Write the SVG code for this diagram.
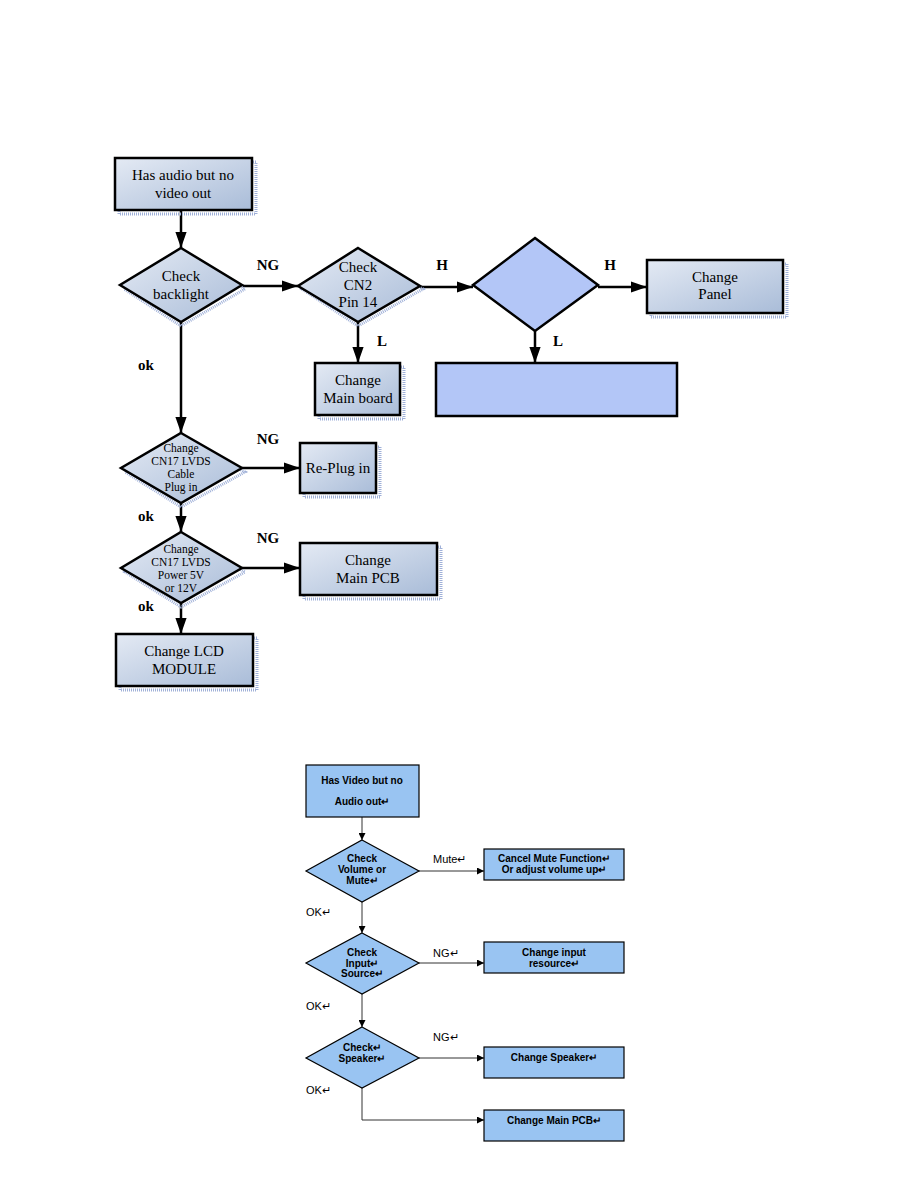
<svg xmlns="http://www.w3.org/2000/svg" width="918" height="1188" viewBox="0 0 918 1188">
<defs>
<linearGradient id="g1" x1="0" y1="0" x2="1" y2="1">
<stop offset="0" stop-color="#e4eaf4"/>
<stop offset="1" stop-color="#a9bcd8"/>
</linearGradient>
<marker id="ah" viewBox="0 0 10 10" refX="10" refY="5" markerWidth="7" markerHeight="7" markerUnits="userSpaceOnUse" orient="auto">
<path d="M0,0 L10,5 L0,10 z" fill="#000"/>
</marker>
<marker id="ab" viewBox="0 0 10 10" refX="10" refY="5" markerWidth="16" markerHeight="16" markerUnits="userSpaceOnUse" orient="auto">
<path d="M0,1.5 L10,5 L0,8.5 z" fill="#000"/>
</marker>
<style>
.n{fill:url(#g1);stroke:#000;stroke-width:2.5}
.b{fill:#b3c6f7;stroke:#000;stroke-width:2.5}
.sh{fill:none;stroke:#9fb0d8;stroke-width:3;stroke-dasharray:1 1}
.t{font-family:"Liberation Serif",serif;font-size:15px;fill:#000;text-anchor:middle}
.ts{font-family:"Liberation Serif",serif;font-size:11.5px;fill:#000;text-anchor:middle}
.l{font-family:"Liberation Serif",serif;font-size:15px;font-weight:bold;fill:#000}
.c{stroke:#000;stroke-width:2.5;fill:none;marker-end:url(#ab)}
.n2{fill:#99c4f2;stroke:#000;stroke-width:1.2}
.t2{font-family:"Liberation Sans",sans-serif;font-size:10px;font-weight:bold;fill:#000;text-anchor:middle}
.l2{font-family:"Liberation Sans",sans-serif;font-size:11px;fill:#000}
.c2{stroke:#333;stroke-width:1;fill:none;marker-end:url(#ah)}
</style>
</defs>
<rect width="918" height="1188" fill="#fff"/>

<g id="connectors">
<line class="c" x1="181" y1="210" x2="181" y2="248"/>
<line class="c" x1="242" y1="286" x2="298" y2="286"/>
<line class="c" x1="420" y1="287" x2="473" y2="287"/>
<line class="c" x1="598" y1="287" x2="647" y2="287"/>
<line class="c" x1="535" y1="331" x2="535" y2="363"/>
<line class="c" x1="358" y1="322" x2="358" y2="363"/>
<line class="c" x1="181" y1="322" x2="181" y2="433"/>
<line class="c" x1="242" y1="468" x2="300" y2="468"/>
<line class="c" x1="181" y1="503" x2="181" y2="532"/>
<line class="c" x1="242" y1="568" x2="300" y2="568"/>
<line class="c" x1="181" y1="603" x2="181" y2="634"/>
<text class="l" x="268" y="270" text-anchor="middle">NG</text>
<text class="l" x="442" y="270" text-anchor="middle">H</text>
<text class="l" x="610" y="270" text-anchor="middle">H</text>
<text class="l" x="382" y="346" text-anchor="middle">L</text>
<text class="l" x="558" y="346" text-anchor="middle">L</text>
<text class="l" x="146" y="370" text-anchor="middle">ok</text>
<text class="l" x="268" y="444" text-anchor="middle">NG</text>
<text class="l" x="146" y="521" text-anchor="middle">ok</text>
<text class="l" x="268" y="543" text-anchor="middle">NG</text>
<text class="l" x="146" y="611" text-anchor="middle">ok</text>

<line class="c2" x1="362" y1="817" x2="362" y2="840"/>
<line class="c2" x1="419" y1="871" x2="484" y2="871"/>
<line class="c2" x1="362" y1="902" x2="362" y2="933"/>
<line class="c2" x1="419" y1="963" x2="484" y2="963"/>
<line class="c2" x1="362" y1="994" x2="362" y2="1027"/>
<line class="c2" x1="419" y1="1058" x2="484" y2="1058"/>
<polyline class="c2" points="362,1088 362,1120 484,1120"/>
<text class="l2" x="433" y="863">Mute↵</text>
<text class="l2" x="306" y="916">OK↵</text>
<text class="l2" x="433" y="957">NG↵</text>
<text class="l2" x="306" y="1010">OK↵</text>
<text class="l2" x="433" y="1041">NG↵</text>
<text class="l2" x="306" y="1094">OK↵</text>
</g>

<g id="start1">
<rect class="sh" x="119" y="162" width="137" height="52"/>
<rect class="n" x="115" y="158" width="137" height="52"/>
<text class="t" x="183" y="180">Has audio but no</text>
<text class="t" x="183" y="198">video out</text>
</g>
<g id="check-backlight">
<polygon class="sh" points="181,252 245,289 181,326 124,289"/>
<polygon class="n" points="181,248 242,285 181,322 120,285"/>
<text class="t" x="181" y="281">Check</text>
<text class="t" x="181" y="299">backlight</text>
</g>
<g id="check-cn2">
<polygon class="sh" points="358,252 423,289 358,326 302,289"/>
<polygon class="n" points="358,248 420,286 358,322 298,286"/>
<text class="t" x="358" y="272">Check</text>
<text class="t" x="358" y="290">CN2</text>
<text class="t" x="358" y="307">Pin 14</text>
</g>
<g id="decision-blank">
<polygon class="b" points="535,238 598,285 535,331 473,285"/>
</g>
<g id="change-panel">
<rect class="sh" x="651" y="264" width="136" height="53"/>
<rect class="n" x="647" y="260" width="136" height="53"/>
<text class="t" x="715" y="282">Change</text>
<text class="t" x="715" y="299">Panel</text>
</g>
<g id="blank-box">
<rect class="b" x="436" y="363" width="241" height="53"/>
</g>
<g id="change-main-board">
<rect class="sh" x="319" y="367" width="85" height="52"/>
<rect class="n" x="315" y="363" width="85" height="52"/>
<text class="t" x="358" y="385">Change</text>
<text class="t" x="358" y="403">Main board</text>
</g>
<g id="cn17-cable">
<polygon class="sh" points="181,437 245,472 181,507 125,472"/>
<polygon class="n" points="181,433 242,468 181,503 121,468"/>
<text class="ts" x="181" y="452">Change</text>
<text class="ts" x="181" y="465">CN17 LVDS</text>
<text class="ts" x="181" y="478">Cable</text>
<text class="ts" x="181" y="491">Plug in</text>
</g>
<g id="re-plug">
<rect class="sh" x="304" y="447" width="76" height="50"/>
<rect class="n" x="300" y="443" width="76" height="50"/>
<text class="t" x="338" y="473">Re-Plug in</text>
</g>
<g id="cn17-power">
<polygon class="sh" points="181,536 245,572 181,607 125,572"/>
<polygon class="n" points="181,532 242,568 181,603 121,568"/>
<text class="ts" x="181" y="553">Change</text>
<text class="ts" x="181" y="566">CN17 LVDS</text>
<text class="ts" x="181" y="579">Power 5V</text>
<text class="ts" x="181" y="592">or 12V</text>
</g>
<g id="change-main-pcb">
<rect class="sh" x="304" y="547" width="137" height="52"/>
<rect class="n" x="300" y="543" width="137" height="52"/>
<text class="t" x="368" y="565">Change</text>
<text class="t" x="368" y="583">Main PCB</text>
</g>
<g id="change-lcd">
<rect class="sh" x="120" y="638" width="137" height="52"/>
<rect class="n" x="116" y="634" width="137" height="52"/>
<text class="t" x="184" y="656">Change LCD</text>
<text class="t" x="184" y="674">MODULE</text>
</g>

<g id="start2">
<rect class="n2" x="306" y="765" width="113" height="52"/>
<text class="t2" x="362" y="784">Has Video but no</text>
<text class="t2" x="362" y="805">Audio out↵</text>
</g>
<g id="check-volume">
<polygon class="n2" points="362,840 419,871 362,902 306,871"/>
<text class="t2" x="362" y="862">Check</text>
<text class="t2" x="362" y="873">Volume or</text>
<text class="t2" x="362" y="884">Mute↵</text>
</g>
<g id="cancel-mute">
<rect class="n2" x="484" y="849" width="140" height="31"/>
<text class="t2" x="554" y="862">Cancel Mute Function↵</text>
<text class="t2" x="554" y="873">Or adjust volume up↵</text>
</g>
<g id="check-input">
<polygon class="n2" points="362,933 419,963 362,994 306,963"/>
<text class="t2" x="362" y="956">Check</text>
<text class="t2" x="362" y="967">Input↵</text>
<text class="t2" x="362" y="977">Source↵</text>
</g>
<g id="change-input">
<rect class="n2" x="484" y="942" width="140" height="31"/>
<text class="t2" x="554" y="956">Change input</text>
<text class="t2" x="554" y="967">resource↵</text>
</g>
<g id="check-speaker">
<polygon class="n2" points="362,1027 419,1058 362,1088 306,1058"/>
<text class="t2" x="362" y="1051">Check↵</text>
<text class="t2" x="362" y="1062">Speaker↵</text>
</g>
<g id="change-speaker">
<rect class="n2" x="484" y="1047" width="140" height="31"/>
<text class="t2" x="554" y="1061">Change Speaker↵</text>
</g>
<g id="change-main-pcb2">
<rect class="n2" x="484" y="1110" width="140" height="31"/>
<text class="t2" x="554" y="1124">Change Main PCB↵</text>
</g>
</svg>
